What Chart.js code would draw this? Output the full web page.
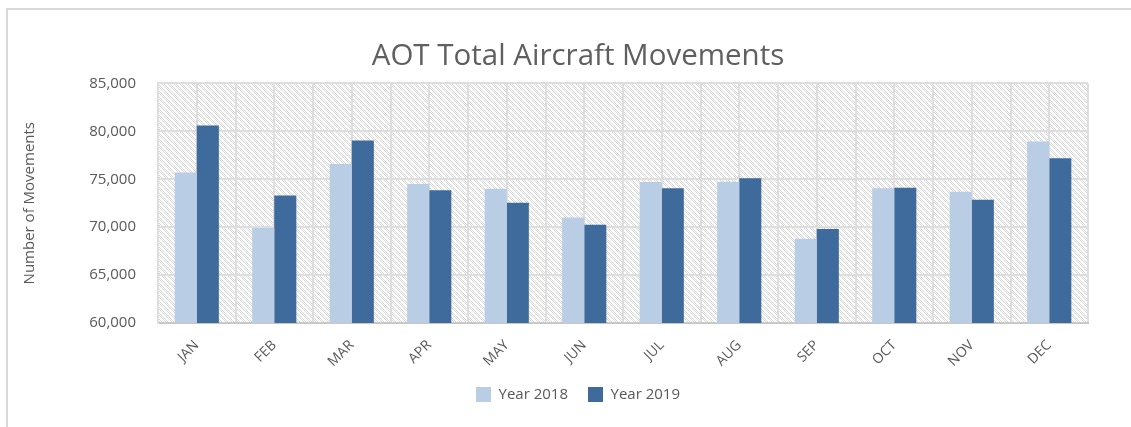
<!DOCTYPE html>
<html>
<head>
<meta charset="utf-8">
<script src="https://cdn.jsdelivr.net/npm/chart.js@4.4.1/dist/chart.umd.min.js"></script>
<style>
  html, body { margin: 0; padding: 0; background: #fff; overflow: hidden; }
  #frame { position: absolute; left: 6px; top: 8px; width: 1300px; height: 600px;
           border: 2px solid #d9d9d9; box-sizing: border-box; }
  #wrap { position: absolute; left: 0; top: 0; width: 1131px; height: 427px; }
</style>
</head>
<body>
<div id="frame"></div>
<div id="wrap"><canvas id="chart" width="1131" height="427"></canvas></div>
<script>
"use strict";
// data
var months = ['JAN', 'FEB', 'MAR', 'APR', 'MAY', 'JUN', 'JUL', 'AUG', 'SEP', 'OCT', 'NOV', 'DEC'];
var year2018 = [75700, 69900, 76600, 74500, 74000, 71000, 74700, 74750, 68800, 74050, 73700, 78950];
var year2019 = [80600, 73300, 79050, 73850, 72550, 70250, 74050, 75100, 69800, 74100, 72850, 77200];
var yMin = 60000, yMax = 85000, yStep = 5000;

var FONT = "'Open Sans', 'Noto Sans', sans-serif";
var TEXT = '#595959';
var GRID = '#dedede';

// dotted diagonal hatch for the plot area
function makeHatch(ctx) {
  var c = document.createElement('canvas');
  c.width = 6; c.height = 6;
  var g = c.getContext('2d');
  g.fillStyle = '#ffffff';
  g.fillRect(0, 0, 6, 6);
  g.fillStyle = '#d9d9d9';
  for (var y = 0; y < 6; y++) {
    for (var x = 0; x < 6; x++) {
      if ((x - y + 6) % 6 < 3 && (x + y) % 2 === 0) g.fillRect(x, y, 1, 1);
    }
  }
  return ctx.createPattern(c, 'repeat');
}

var hatchBg = {
  id: 'hatchBg',
  beforeDraw: function(chart) {
    var a = chart.chartArea, ctx = chart.ctx;
    ctx.save();
    ctx.fillStyle = makeHatch(ctx);
    ctx.fillRect(a.left, a.top, a.right - a.left, a.bottom - a.top);
    ctx.restore();
  }
};

var ctx = document.getElementById('chart').getContext('2d');
var chart = new Chart(ctx, {
  type: 'bar',
  data: {
    labels: months,
    datasets: [{
      label: 'Year 2018',
      data: year2018,
      backgroundColor: '#b9cde5',
      borderWidth: 0
    }, {
      label: 'Year 2019',
      data: year2019,
      backgroundColor: '#3e6a9c',
      borderWidth: 0
    }]
  },
  options: {
    responsive: false,
    animation: false,
    categoryPercentage: 0.57,
    barPercentage: 1.0,
    layout: { padding: { left: 25, right: 0, top: 0, bottom: 15 } },
    scales: {
      x: {
        grid: { color: GRID, lineWidth: 2, drawTicks: false },
        border: { color: '#c8c8c8', width: 2 },
        ticks: {
          color: TEXT, font: { family: FONT, size: 14 },
          minRotation: 45, maxRotation: 45, padding: 14
        },
        afterFit: function(s) { s.height = 44; }
      },
      x2: {
        type: 'category',
        labels: months,
        offset: true,
        position: 'bottom',
        grid: { offset: false, color: GRID, lineWidth: 2, drawTicks: false },
        ticks: { display: false },
        border: { display: false },
        afterFit: function(s) { s.height = 0; }
      },
      y: {
        min: yMin, max: yMax,
        grid: { color: GRID, lineWidth: 2, drawTicks: false },
        border: { color: GRID, width: 2 },
        ticks: {
          stepSize: yStep, color: TEXT, padding: 22,
          font: { family: FONT, size: 15 },
          callback: function(v) { return v.toLocaleString('en-US'); }
        },
        title: {
          display: true, text: 'Number of Movements', color: TEXT,
          font: { family: FONT, size: 15 }, padding: { top: -4, bottom: 0 }
        },
        afterFit: function(s) { s.width = 133; }
      },
      yR: {
        position: 'right',
        grid: { display: false, drawTicks: false },
        ticks: { display: false },
        border: { display: false },
        afterFit: function(s) { s.width = 43; }
      }
    },
    plugins: {
      title: {
        display: true,
        text: 'AOT Total Aircraft Movements',
        color: '#5f5f5f',
        font: { family: FONT, size: 29.5, weight: 'normal' },
        padding: { top: 39, bottom: 9 }
      },
      legend: {
        position: 'bottom',
        labels: {
          boxWidth: 15, boxHeight: 15, padding: 20,
          color: TEXT, font: { family: FONT, size: 15 }
        }
      },
      tooltip: { enabled: false }
    }
  },
  plugins: [hatchBg]
});
</script>
</body>
</html>
